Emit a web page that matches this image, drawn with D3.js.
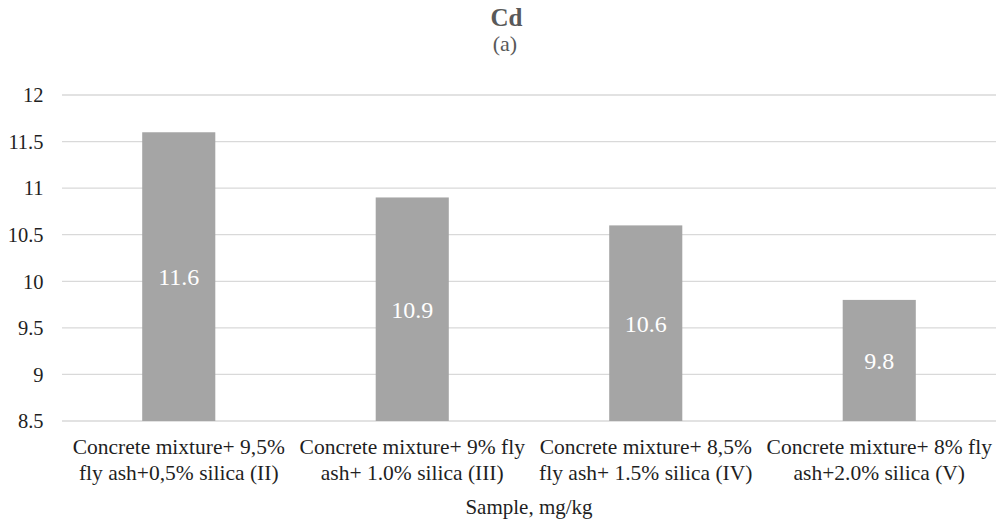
<!DOCTYPE html>
<html><head><meta charset="utf-8">
<script src="https://cdn.jsdelivr.net/npm/d3@7"></script>
<style>body{margin:0;background:#fff}svg{display:block}</style>
</head><body>
<svg id="c" width="1004" height="522"></svg>
<script>
const categories = [
  ["Concrete mixture+ 9,5%", "fly ash+0,5% silica (II)"],
  ["Concrete mixture+ 9% fly", "ash+ 1.0% silica (III)"],
  ["Concrete mixture+ 8,5%", "fly ash+ 1.5% silica (IV)"],
  ["Concrete mixture+ 8% fly", "ash+2.0% silica (V)"]
];
const values = [11.6, 10.9, 10.6, 9.8];
const yTicks = [8.5, 9, 9.5, 10, 10.5, 11, 11.5, 12];
const title = "Cd";
const subtitle = "(a)";
const xTitle = "Sample, mg/kg";

const FONT = '"Liberation Serif", "Times New Roman", serif';
const svg = d3.select("#c");
const m = {left: 62, right: 996, top: 95, bottom: 421};
const x = d3.scaleBand().domain(d3.range(values.length)).range([m.left, m.right]).paddingInner(0.687).paddingOuter(0.3435);
const y = d3.scaleLinear().domain([8.5, 12]).range([m.bottom, m.top]);

svg.append("g").selectAll("line").data(yTicks).join("line")
  .attr("x1", m.left).attr("x2", m.right)
  .attr("y1", d => y(d)).attr("y2", d => y(d))
  .attr("stroke", "#d9d9d9").attr("stroke-width", 1.3);

const yAxis = d3.axisLeft(y).tickValues(yTicks).tickSize(0).tickPadding(0).tickFormat(d => String(d));
const ga = svg.append("g").attr("transform", `translate(${43.5},0)`).call(yAxis);
ga.select(".domain").remove();
ga.selectAll("text").style("font-family", FONT).style("font-size", "20.5px").attr("fill", "#1f1f1f").attr("dy", "0.33em");

svg.append("g").selectAll("rect").data(values).join("rect")
  .attr("x", (d, i) => x(i)).attr("width", x.bandwidth())
  .attr("y", d => y(d)).attr("height", d => y(8.5) - y(d))
  .attr("fill", "#a5a5a5");

svg.append("g").selectAll("text").data(values).join("text")
  .attr("x", (d, i) => x(i) + x.bandwidth() / 2)
  .attr("y", d => (y(d) + y(8.5)) / 2)
  .attr("dy", "0.36em")
  .attr("text-anchor", "middle")
  .style("font-family", FONT).style("font-size", "24px").attr("fill", "#fff")
  .text(d => d);

const gx = svg.append("g");
categories.forEach((lines, i) => {
  const t = gx.append("text").attr("text-anchor", "middle")
    .style("font-family", FONT).style("font-size", "21.5px").attr("fill", "#1f1f1f");
  lines.forEach((ln, j) => {
    t.append("tspan").attr("x", x(i) + x.bandwidth() / 2).attr("y", 454 + j * 25.5).text(ln);
  });
});

svg.append("text").attr("x", 529).attr("y", 514).attr("text-anchor", "middle")
  .style("font-family", FONT).style("font-size", "21px").attr("fill", "#1f1f1f").text(xTitle);

svg.append("text").attr("x", 506.5).attr("y", 26).attr("text-anchor", "middle")
  .style("font-family", FONT).style("font-size", "25px").style("font-weight", "bold").attr("fill", "#595959").text(title);
svg.append("text").attr("x", 505).attr("y", 51).attr("text-anchor", "middle")
  .style("font-family", FONT).style("font-size", "22px").attr("fill", "#595959").text(subtitle);
</script>
</body></html>
